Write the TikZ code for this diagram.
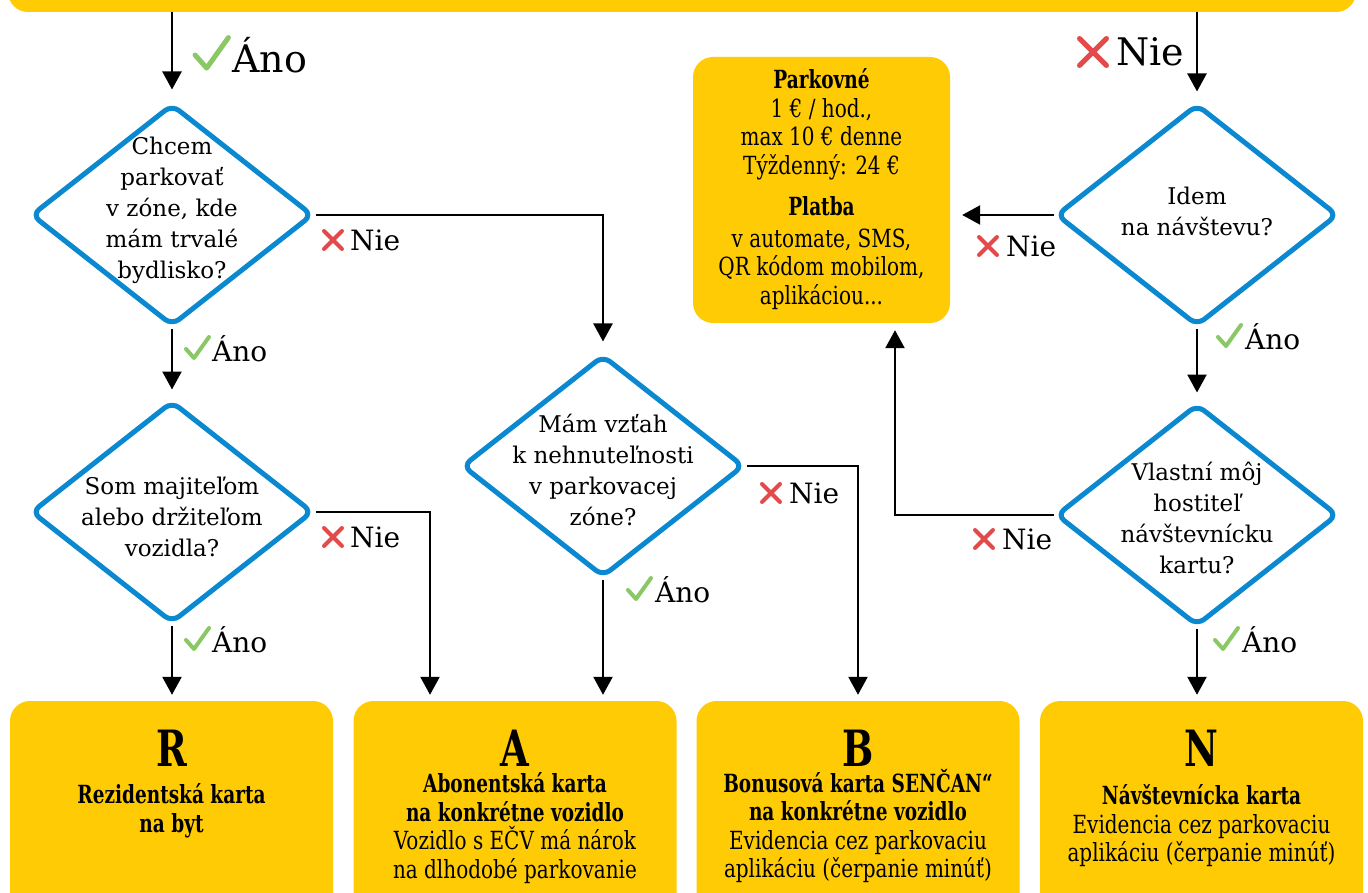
\documentclass[tikz,border=0pt]{standalone}
\usepackage{fontspec}
\setmainfont{DejaVu Serif}
\newfontfamily\condf{DejaVu Serif}[FakeStretch=0.8]
\newfontfamily\condbf{DejaVu Serif}[FakeStretch=0.74]
\newcommand\bb[1]{{\condbf\bfseries #1}}
\usetikzlibrary{shapes.geometric,arrows.meta,calc}
\definecolor{yel}{HTML}{FFCB05}
\definecolor{blu}{HTML}{0A88D0}
\definecolor{okgreen}{HTML}{8AC865}
\definecolor{nored}{HTML}{E34A4C}
\begin{document}
\begin{tikzpicture}[x=1pt,y=-1pt,
  dia/.style={diamond, draw=blu, line width=5pt, rounded corners=9pt, minimum width=282pt, minimum height=222pt, inner sep=0pt},
  dtext/.style={align=center, inner sep=0pt, font=\fontsize{23}{31}\selectfont},
  card/.style={fill=yel, rounded corners=20pt, inner sep=0pt},
  bigcard/.style={card, minimum width=323pt, minimum height=212pt},
  letter/.style={inner sep=0pt, font=\condbf\bfseries\fontsize{50}{50}\selectfont},
  desc/.style={align=center, inner sep=0pt, font=\condf\fontsize{25}{28.5}\selectfont},
  arr/.style={line width=2.4pt, -{Triangle[length=18pt,width=19pt]}},
  lab/.style={anchor=west, inner sep=0pt, font=\fontsize{28}{28}\selectfont},
  biglab/.style={anchor=west, inner sep=0pt, font=\fontsize{38}{38}\selectfont},
  okmark/.pic={\draw[okgreen, line cap=round, line join=round] (-11,0) -- (-3,9) -- (12,-12);},
  nomark/.pic={\draw[nored, line cap=round] (-9,-9) -- (9,9) (-9,9) -- (9,-9);}
]
\useasboundingbox (0,0) rectangle (1368,893);

% top bar
\node[card, minimum width=1348pt, minimum height=52pt] (bar) at (682,-14) {};

% diamonds
\node[dia] (d1) at (172,215) {};
\node[dia] (d2) at (172,512) {};
\node[dia] (d3) at (603,466) {};
\node[dia] (d4) at (1197,215) {};
\node[dia] (d5) at (1197,515) {};

\node[dtext] (d1t) at (172,210) {Chcem\\parkovať\\v zóne, kde\\mám trvalé\\bydlisko?};
\node[dtext] (d2t) at (172,517) {Som majiteľom\\alebo držiteľom\\vozidla?};
\node[dtext] (d3t) at (603,470) {Mám vzťah\\k nehnuteľnosti\\v parkovacej\\zóne?};
\node[dtext] (d4t) at (1197,211) {Idem\\na návštevu?};
\node[dtext] (d5t) at (1197,518) {Vlastní môj\\hostiteľ\\návštevnícku\\kartu?};

% parking info box
\node[card, minimum width=257pt, minimum height=266pt] (P) at (821.5,190) {};
\node[desc] (Pt) at (821.5,189) {\bb{Parkovné}\\1 € / hod.,\\max 10 € denne\\Týždenný: 24 €\\[13pt]\bb{Platba}\\[3pt]v automate, SMS,\\QR kódom mobilom,\\aplikáciou...};

% bottom boxes
\node[bigcard] (bR) at (171.5,807) {};
\node[bigcard] (bA) at (515,807) {};
\node[bigcard] (bB) at (858,807) {};
\node[bigcard] (bN) at (1201.5,807) {};

\node[letter] (lR) at (171.5,748) {R};
\node[letter] (lA) at (515,748) {A};
\node[letter] (lB) at (858,748) {B};
\node[letter] (lN) at (1201.5,748) {N};

\node[desc] (tR) at (171.5,811) {\bb{Rezidentská karta}\\\bb{na byt}};
\node[desc] (tA) at (515,828) {\bb{Abonentská karta}\\\bb{na konkrétne vozidlo}\\Vozidlo s EČV má nárok\\na dlhodobé parkovanie};
\node[desc] (tB) at (858,826) {\bb{Bonusová karta SENČAN“}\\\bb{na konkrétne vozidlo}\\Evidencia cez parkovaciu\\aplikáciu (čerpanie minúť)};
\node[desc] (tN) at (1201.5,826) {\bb{Návštevnícka karta}\\Evidencia cez parkovaciu\\aplikáciu (čerpanie minúť)};

% connectors
\draw[arr, shorten >=12pt] (bar.south -| d1.north) -- (d1.north);
\draw[arr, shorten >=11pt] (d1.east) -| (d3.north);
\draw[arr, shorten >=9pt] (d1.south) -- (d2.north);
\draw[arr, shorten >=6pt] (d2.east) -| ([xshift=-85pt]bA.north);
\draw[arr, shorten >=6pt] (d2.south) -- (d2.south |- bR.north);
\draw[arr, shorten >=6pt] (d3.south) -- (d3.south |- bA.north);
\draw[arr, shorten >=6pt] (d3.east) -| (bB.north);
\draw[arr, shorten >=10pt] (bar.south -| d4.north) -- (d4.north);
\draw[arr, shorten >=12pt] (d4.west) -- (d4.west -| P.east);
\draw[arr, shorten >=9pt] (d4.south) -- (d5.north);
\draw[arr, shorten >=7pt] (d5.west) -| ([xshift=73.5pt]P.south);
\draw[arr, shorten >=6pt] (d5.south) -- (d5.south |- bN.north);

% labels
\pic[scale=1.45, line width=5pt] at (211,55) {okmark};
\node[biglab] (l0) at (232,55) {Áno};
\pic[scale=1.5, line width=5pt] at (1093,52) {nomark};
\node[biglab] (l00) at (1116,52) {Nie};

\pic[line width=4pt] at (197,349) {okmark};
\node[lab] (l1) at (212,349) {Áno};
\pic[line width=4pt] at (197,640) {okmark};
\node[lab] (l2) at (212,640) {Áno};
\pic[line width=4pt] at (639,590) {okmark};
\node[lab] (l3) at (655,590) {Áno};
\pic[line width=4pt] at (1229,337) {okmark};
\node[lab] (l4) at (1245,337) {Áno};
\pic[line width=4pt] at (1226,640) {okmark};
\node[lab] (l5) at (1242,640) {Áno};

\pic[line width=4pt] at (333,240) {nomark};
\node[lab] (n1) at (350,240) {Nie};
\pic[line width=4pt] at (333,537) {nomark};
\node[lab] (n2) at (350,537) {Nie};
\pic[line width=4pt] at (771,493) {nomark};
\node[lab] (n3) at (789,493) {Nie};
\pic[line width=4pt] at (988,246) {nomark};
\node[lab] (n4) at (1006,246) {Nie};
\pic[line width=4pt] at (984,539) {nomark};
\node[lab] (n5) at (1002,539) {Nie};
\end{tikzpicture}
\end{document}
